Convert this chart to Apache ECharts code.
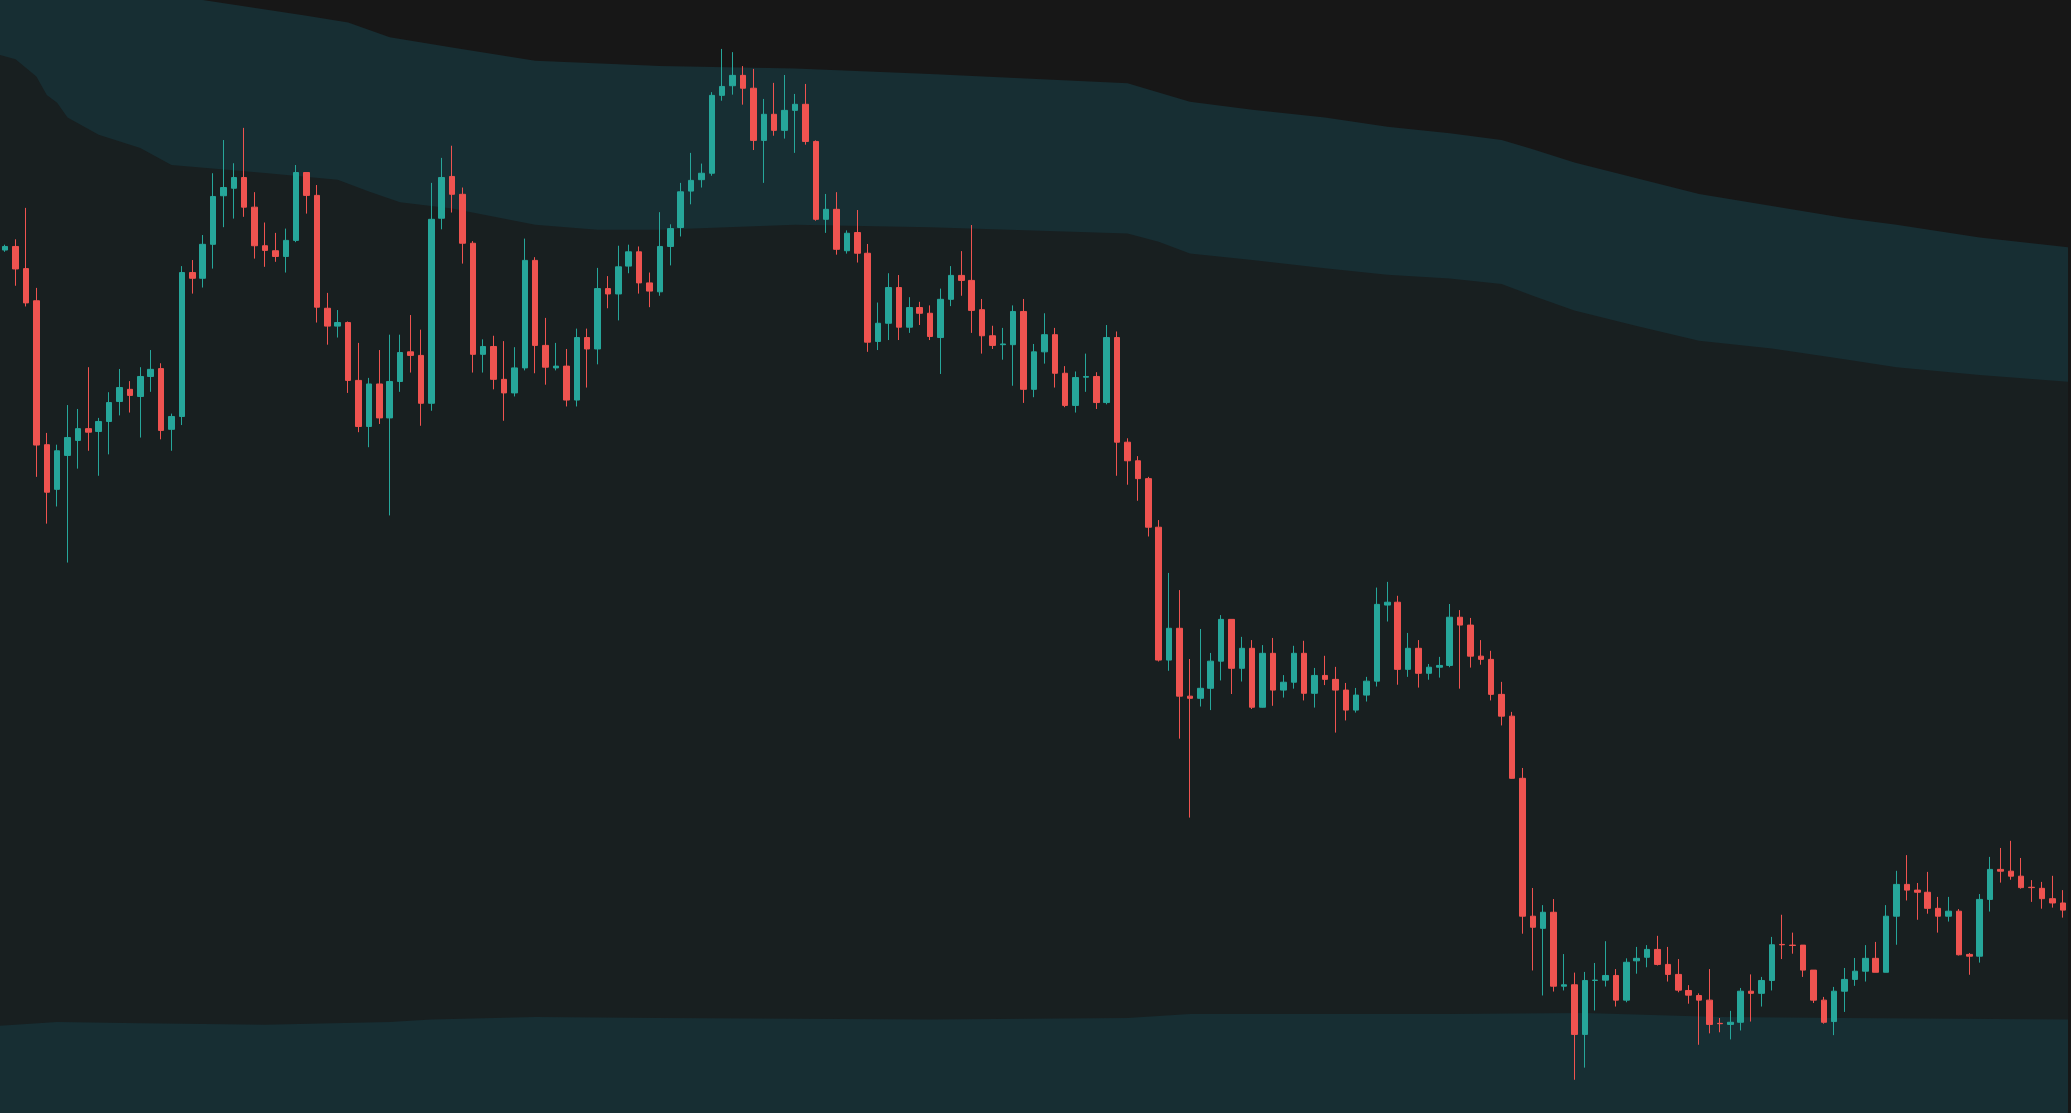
<!DOCTYPE html>
<html>
<head>
<meta charset="utf-8">
<script src="https://cdn.jsdelivr.net/npm/echarts@6/dist/echarts.min.js"></script>
<style>
html,body{margin:0;padding:0;background:#171717;}
#chart{width:2071px;height:1113px;}
</style>
</head>
<body>
<div id="chart"></div>
<script>
// candle values, one entry per bar
var opens = [3300,3310,3248,3158,2755,2630,2725,2767,2800,2792,2820,2876,2910,2890,2946,2968,2798,2834,3237,3221,
3316,3452,3473,3503,3420,3312,3298,3282,3327,3517,3453,3137,3087,3097,2935,2806,2925,2830,2932,3015,
3005,2871,3389,3506,3456,3319,3008,3030,2938,2900,2970,3271,3033,2970,2975,2880,3055,3023,3192,3177,
3255,3295,3208,3183,3310,3363,3465,3497,3515,3733,3760,3789,3753,3607,3680,3635,3691,3708,3604,3386,
3414,3298,3349,3291,3044,3095,3195,3084,3139,3123,3055,3162,3229,3215,3133,3060,3035,3035,3128,2910,
3015,3063,2955,2865,2944,2946,2873,3055,2762,2710,2660,2524,2152,2241,2051,2045,2073,2149,2266,2129,
2185,2020,2171,2068,2090,2171,2059,2109,2098,2068,2012,2054,2093,2306,2314,2126,2185,2115,2132,2137,
2272,2250,2163,2154,2056,1995,1821,1435,1401,1446,1239,1243,1104,1255,1256,1269,1200,1310,1320,1342,
1300,1272,1227,1213,1200,1135,1132,1138,1225,1219,1255,1356,1354,1354,1284,1200,1140,1225,1258,1281,
1317,1278,1435,1524,1508,1502,1457,1435,1449,1328,1323,1482,1566,1561,1547,1516,1513,1484,1472];
var closes = [3310,3247,3152,2754,2622,2738,2775,2800,2790,2820,2873,2915,2893,2946,2966,2795,2834,3237,3221,3316,
3450,3475,3503,3420,3312,3299,3282,3327,3517,3453,3140,3087,3097,2935,2806,2925,2830,2932,3013,3005,
2871,3386,3503,3456,3319,3008,3030,2938,2900,2970,3271,3033,2972,2975,2880,3055,3023,3192,3177,3253,
3295,3208,3185,3310,3360,3463,3495,3515,3733,3758,3789,3753,3607,3680,3635,3691,3708,3604,3386,3414,
3302,3347,3291,3042,3095,3195,3084,3139,3123,3058,3162,3229,3215,3131,3060,3033,3037,3128,2910,3015,
3063,2955,2865,2943,2946,2873,3055,2762,2710,2660,2524,2152,2241,2051,2045,2073,2149,2266,2129,2185,
2020,2171,2068,2090,2171,2059,2109,2098,2068,2012,2054,2093,2308,2314,2126,2185,2115,2132,2137,2272,
2250,2163,2154,2056,1995,1821,1435,1404,1446,1239,1243,1104,1255,1256,1269,1200,1306,1317,1342,1300,
1272,1228,1214,1200,1132,1134,1138,1225,1219,1255,1355,1355,1353,1284,1200,1138,1225,1258,1281,1317,
1278,1435,1524,1508,1502,1457,1435,1449,1327,1323,1482,1566,1561,1547,1515,1515,1484,1472,1452];
var lows = [3295,3200,3142,2665,2534,2582,2425,2688,2738,2668,2728,2837,2845,2775,2903,2770,2738,2810,3178,3195,
3248,3364,3388,3393,3276,3253,3267,3237,3322,3402,3097,3035,3055,2900,2790,2748,2813,2557,2903,2957,
2808,2850,3358,3405,3262,2957,2957,2910,2822,2890,2963,2955,2923,2963,2862,2862,2915,2980,3137,3103,
3235,3178,3140,3172,3257,3338,3428,3475,3508,3718,3735,3707,3580,3488,3620,3612,3572,3595,3382,3348,
3287,3290,3265,3015,3020,3048,3048,3068,3090,3048,2953,3143,3172,3068,3010,3023,2993,2920,2872,2888,
2982,2915,2860,2845,2903,2855,2868,2668,2643,2598,2498,2148,2122,1932,1711,2022,2012,2095,2057,2092,
2015,2019,2024,2047,2072,2039,2019,2082,1949,1983,2005,2036,2078,2260,2083,2105,2075,2097,2103,2132,
2072,2131,2139,2039,1969,1820,1386,1283,1213,1224,1227,977,1011,1171,1238,1182,1194,1274,1292,1297,
1252,1222,1190,1075,1107,1110,1090,1115,1140,1182,1227,1315,1330,1265,1192,1134,1102,1167,1240,1252,
1278,1278,1355,1479,1425,1442,1389,1420,1325,1271,1305,1448,1529,1537,1512,1475,1456,1459,1431];
var highs = [3315,3330,3418,3194,2788,2755,2866,2855,2972,2830,2902,2967,2933,2972,3020,2983,2842,3255,3272,3342,
3515,3608,3543,3642,3462,3377,3348,3360,3538,3517,3482,3180,3132,3100,3040,2942,3020,3063,3063,3118,
3077,3488,3558,3592,3475,3325,3050,3060,3045,3028,3332,3280,3110,3040,3023,3080,3080,3250,3227,3312,
3315,3310,3237,3406,3372,3488,3572,3542,3742,3863,3854,3815,3807,3723,3768,3790,3737,3765,3607,3457,
3462,3355,3412,3317,3153,3235,3230,3168,3155,3145,3192,3255,3297,3370,3163,3088,3082,3145,3163,3037,
3123,3082,2975,2960,3010,2958,3090,3072,2773,2723,2665,2544,2396,2348,2155,2239,2172,2278,2266,2217,
2208,2194,2214,2110,2192,2206,2130,2164,2133,2088,2074,2105,2355,2371,2332,2228,2208,2141,2161,2309,
2292,2270,2208,2178,2091,2007,1850,1514,1466,1483,1329,1277,1279,1304,1365,1287,1317,1349,1354,1380,
1349,1315,1242,1219,1287,1150,1170,1234,1272,1265,1377,1439,1389,1354,1284,1209,1237,1290,1318,1354,
1363,1466,1562,1606,1528,1559,1489,1489,1455,1332,1497,1601,1626,1646,1598,1536,1531,1548,1508];

// channel edges as [bar index, price]
var upperOuter = [[-1,4085],[10,4041],[19,4000],[29,3956],[33,3937],[37,3896],[43,3867],[51,3830],[63,3815],[76,3808],
[89,3793],[108,3767],[111,3741],[114,3715],[120,3693],[127,3671],[133,3645],[139,3627],[144,3608],[147,3582],
[151,3545],[157,3501],[163,3457],[170,3423],[177,3390],[182,3371],[190,3335],[199,3306]];
var upperInner = [[-1,3850],[1,3834],[3,3786],[4,3734],[5,3712],[6,3671],[9,3623],[13,3586],[16,3538],[25,3516],
[32,3497],[35,3464],[38,3434],[43,3416],[51,3371],[57,3357],[63,3357],[76,3371],[89,3364],[108,3346],
[111,3323],[114,3290],[120,3272],[127,3249],[133,3231],[139,3220],[144,3205],[147,3172],[151,3131],[157,3087],
[163,3046],[170,3024],[177,2994],[182,2972],[190,2950],[199,2930]];
var lowerEdge = [[-1,1127],[5,1139],[13,1135],[25,1131],[37,1139],[41,1146],[51,1153],[63,1150],[89,1146],[108,1150],
[114,1161],[127,1161],[139,1161],[152,1164],[165,1153],[177,1150],[199,1146]];

var cats = opens.map(function (v, i) { return i; });
var candles = opens.map(function (o, i) { return [o, closes[i], lows[i], highs[i]]; });

var bandColor = '#172e33';
var plotColor = '#181f20';

function area(data, color, z) {
    return {
        type: 'line', data: data, xAxisIndex: 1, symbol: 'none', z: z, clip: true,
        lineStyle: {width: 0}, areaStyle: {color: color, opacity: 1, origin: 'start'},
        silent: true
    };
}

var myChart = echarts.init(document.getElementById('chart'));
myChart.setOption({
    backgroundColor: '#171717',
    animation: false,
    grid: {left: -8, right: 3, top: 0, bottom: 0},
    xAxis: [
        {type: 'category', data: cats, show: false, boundaryGap: true},
        {type: 'value', min: -0.5, max: cats.length - 0.5, show: false, splitLine: {show: false}}
    ],
    yAxis: {type: 'value', min: 884, max: 4000, show: false, splitLine: {show: false}},
    series: [
        area(upperOuter, bandColor, 1),
        area(upperInner, plotColor, 2),
        area(lowerEdge, bandColor, 3),
        {
            type: 'candlestick', data: candles, z: 5, barWidth: 6,
            itemStyle: {color: '#26a69a', color0: '#ef5350', borderColor: '#26a69a', borderColor0: '#ef5350', borderWidth: 1}
        }
    ]
});
</script>
</body>
</html>
